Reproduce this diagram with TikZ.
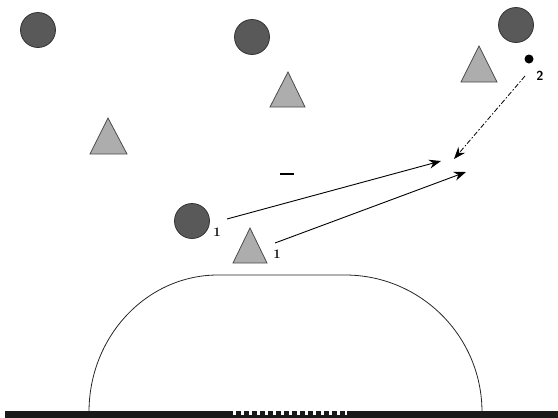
\documentclass[tikz,border=0pt]{standalone}
\usetikzlibrary{arrows.meta}
\begin{document}
\begin{tikzpicture}[x=1pt,y=-1pt,
  darkdisc/.style={circle,draw=black!80,fill=black!65,line width=0.8pt,minimum size=35pt,inner sep=0pt},
  tri/.style={draw=black!70,fill=black!32,line width=0.8pt,line join=miter},
  arr/.style={-{Stealth[length=12pt,width=9pt]},line width=0.9pt,black},
  lbl/.style={font=\bfseries\fontsize{13}{13}\selectfont,inner sep=0pt}]
\useasboundingbox (0,0) rectangle (558,418);
% circles
\node[darkdisc] (c1) at (38,30) {};
\node[darkdisc] (c2) at (252,37) {};
\node[darkdisc] (c3) at (516,25) {};
\node[darkdisc] (c4) at (192,221) {};
% triangles
\draw[tri] (108,118) -- (127,154) -- (90,154) -- cycle;
\draw[tri] (288,72) -- (305,107) -- (270,107) -- cycle;
\draw[tri] (479,46) -- (497,82) -- (461,82) -- cycle;
\draw[tri] (250,228) -- (267,263) -- (233,263) -- cycle;
% small black dot
\node[circle,fill=black,minimum size=9pt,inner sep=0pt] (dot) at (529,59) {};
% labels
\node[lbl] (l1) at (217,232) {1};
\node[lbl] (l2) at (277,254) {1};
\node[lbl,font=\bfseries\sffamily\fontsize{13}{13}\selectfont] (l3) at (540,76) {2};
\node[inner sep=0pt,minimum width=14pt,minimum height=2.6pt,fill=black] (minus) at (287,174) {};
% arrow ends
\coordinate (s1) at (227,219);
\coordinate (e1) at (441,161);
\coordinate (s2) at (275,243);
\coordinate (e2) at (466,172);
\coordinate (s3) at (525,76);
\coordinate (e3) at (454,159);
\draw[arr] (s1) -- (e1);
\draw[arr] (s2) -- (e2);
\draw[arr,line width=0.8pt,dash pattern=on 5pt off 2pt on 1.5pt off 2pt] (s3) -- (e3);
% stadium shape
\coordinate (tl) at (218,275);
\coordinate (tr) at (345,275);
\draw[line width=0.8pt,black!85] (89,412) arc[start angle=180,end angle=270,x radius=129,y radius=137]
  -- (tr) arc[start angle=270,end angle=360,x radius=137,y radius=137];
% bottom bar
\fill[black!90] (5,411) rectangle (558,418);
\foreach \i in {0,...,13} {
  \fill[white] (233+8*\i,411) rectangle (236+8*\i,414.5);
}
\fill[white] (345,411) rectangle (347,414.5);
\end{tikzpicture}
\end{document}
